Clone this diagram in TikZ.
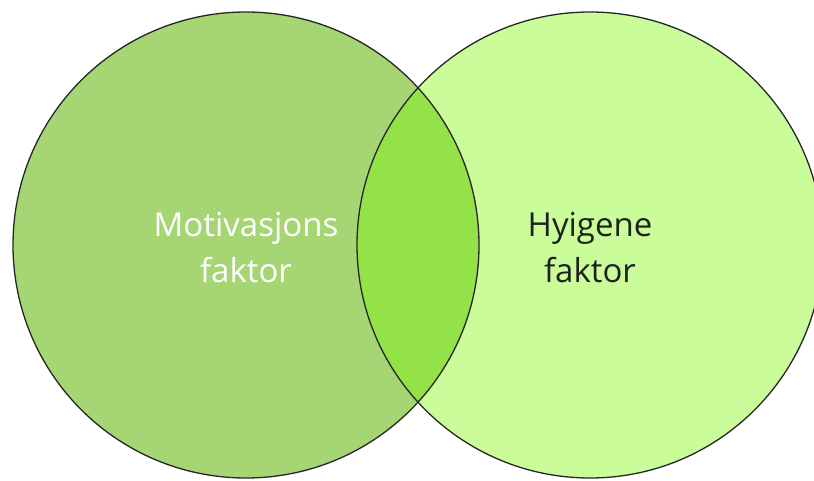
\documentclass[tikz,border=0pt]{standalone}
\usepackage{fontspec}
\setmainfont{Open Sans}
\usetikzlibrary{positioning}
\definecolor{motgreen}{RGB}{166,214,115}
\definecolor{hyggreen}{RGB}{203,252,154}
\definecolor{midgreen}{RGB}{146,226,72}
\definecolor{textdark}{RGB}{30,34,30}

\begin{document}
\begin{tikzpicture}[x=1pt, y=-1pt, set/.style={circle, minimum size=466pt, inner sep=0pt}, rim/.style={draw=black!85, line width=1.3pt}, lbl/.style={align=center, font=\fontsize{33}{46}\selectfont}]
	\useasboundingbox (0,0) rectangle (814,481);
	\clip (0,0) rectangle (814,481);
	\node[set, fill=motgreen] (mot) at (246,245) {};
	\node[set, fill=hyggreen] (hyg) at (590,245) {};
	% overlap
	\begin{scope}
		\clip (mot.center) circle (233pt);
		\fill[midgreen] (hyg.center) circle (233pt);
	\end{scope}
	\draw[rim] (mot.center) circle (233pt);
	\draw[rim] (hyg.center) circle (233pt);
	\node[lbl, text=white] (motlbl) at (246,248) {Motivasjons\\faktor};
	\node[lbl, text=textdark] (hyglbl) at (590,248) {Hyigene\\faktor};
\end{tikzpicture}
\end{document}
